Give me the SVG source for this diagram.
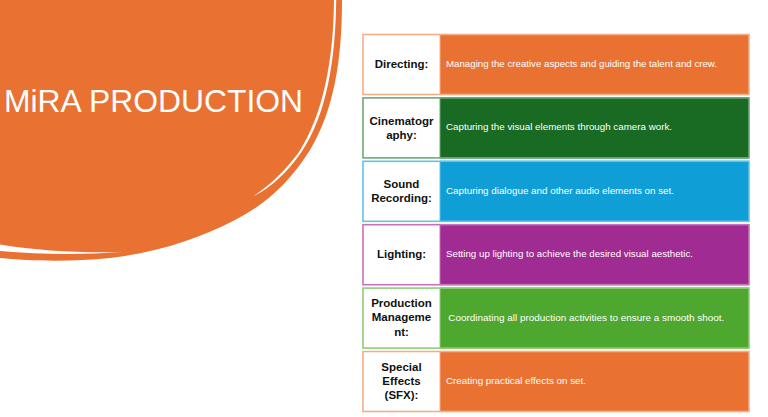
<svg xmlns="http://www.w3.org/2000/svg" width="768" height="417" viewBox="0 0 768 417">
<style>
.lbl{font-family:"Liberation Sans",Arial,sans-serif;font-weight:bold;font-size:11.5px;fill:#111;text-anchor:middle}
.dsc{font-family:"Liberation Sans",Arial,sans-serif;font-size:9.3px;fill:#fff}
.box{fill:#fff}
.frame{fill:none;stroke-width:1.6}
</style>
<rect width="768" height="417" fill="#fff"/>
<g id="title-shape">
<path d="M0 0 L342 0 C342 60 334 110 310 150 C290 182 265 205 235 220 C200 238 160 252 110 258 C70 262 30 261 0 258 Z" fill="#E97132"/>
<path d="M334 0 L336.2 0 C335.5 60 326.8 115 300.8 153 C287 172.5 272 187 253 196.5 C271 184.5 284.7 171 299 152 C323 115 333.5 60 334 0 Z" fill="#fff"/>
<path d="M0 244.5 C40 251 80 253 123 252 C80 255 40 254.5 0 251 Z" fill="#fff"/>
<text x="4" y="112" font-family="'Liberation Sans',Arial,sans-serif" font-size="32" fill="#fff" textLength="299" lengthAdjust="spacingAndGlyphs">MiRA PRODUCTION</text>
</g>
<g id="row-directing">
<rect x="440" y="34" width="309" height="61" fill="#E97132"/>
<rect class="box" x="363" y="34" width="77" height="61"/>
<rect class="frame" x="363" y="34.5" width="386" height="60" stroke="#F4AE85"/>
<line x1="440" y1="34.5" x2="440" y2="94.5" stroke="#F4AE85" stroke-width="1"/>
<text class="lbl" x="401.5" y="68">Directing:</text>
<text class="dsc" x="446" y="67" textLength="271" lengthAdjust="spacingAndGlyphs">Managing the creative aspects and guiding the talent and crew.</text>
</g>
<g id="row-cinematography">
<rect x="440" y="97.4" width="309" height="61" fill="#196B24"/>
<rect class="box" x="363" y="97.4" width="77" height="61"/>
<rect class="frame" x="363" y="97.9" width="386" height="60" stroke="#6FA877"/>
<line x1="440" y1="97.9" x2="440" y2="157.9" stroke="#6FA877" stroke-width="1"/>
<text class="lbl" x="401.5" y="124.7">Cinematogr</text>
<text class="lbl" x="401.5" y="139">aphy:</text>
<text class="dsc" x="446" y="130" textLength="226" lengthAdjust="spacingAndGlyphs">Capturing the visual elements through camera work.</text>
</g>
<g id="row-sound">
<rect x="440" y="160.8" width="309" height="61" fill="#0F9ED5"/>
<rect class="box" x="363" y="160.8" width="77" height="61"/>
<rect class="frame" x="363" y="161.3" width="386" height="60" stroke="#62C2EA"/>
<line x1="440" y1="161.3" x2="440" y2="221.3" stroke="#62C2EA" stroke-width="1"/>
<text class="lbl" x="401.5" y="188">Sound</text>
<text class="lbl" x="401.5" y="202.3">Recording:</text>
<text class="dsc" x="446" y="194" textLength="228" lengthAdjust="spacingAndGlyphs">Capturing dialogue and other audio elements on set.</text>
</g>
<g id="row-lighting">
<rect x="440" y="224.2" width="309" height="61" fill="#A02B93"/>
<rect class="box" x="363" y="224.2" width="77" height="61"/>
<rect class="frame" x="363" y="224.7" width="386" height="60" stroke="#C672BC"/>
<line x1="440" y1="224.7" x2="440" y2="284.7" stroke="#C672BC" stroke-width="1"/>
<text class="lbl" x="401.5" y="258">Lighting:</text>
<text class="dsc" x="446" y="257.3" textLength="247" lengthAdjust="spacingAndGlyphs">Setting up lighting to achieve the desired visual aesthetic.</text>
</g>
<g id="row-production-management">
<rect x="440" y="287.6" width="309" height="61" fill="#4EA72E"/>
<rect class="box" x="363" y="287.6" width="77" height="61"/>
<rect class="frame" x="363" y="288.1" width="386" height="60" stroke="#8FCC77"/>
<line x1="440" y1="288.1" x2="440" y2="348.1" stroke="#8FCC77" stroke-width="1"/>
<text class="lbl" x="401.5" y="307.3">Production</text>
<text class="lbl" x="401.5" y="321.3">Manageme</text>
<text class="lbl" x="401.5" y="335.7">nt:</text>
<text class="dsc" x="448.3" y="321" textLength="276" lengthAdjust="spacingAndGlyphs">Coordinating all production activities to ensure a smooth shoot.</text>
</g>
<g id="row-special-effects">
<rect x="440" y="351" width="309" height="61" fill="#E97132"/>
<rect class="box" x="363" y="351" width="77" height="61"/>
<rect class="frame" x="363" y="351.5" width="386" height="60" stroke="#F4AE85"/>
<line x1="440" y1="351.5" x2="440" y2="411.5" stroke="#F4AE85" stroke-width="1"/>
<text class="lbl" x="401.5" y="371.3">Special</text>
<text class="lbl" x="401.5" y="384.7">Effects</text>
<text class="lbl" x="401.5" y="399">(SFX):</text>
<text class="dsc" x="446" y="384" textLength="140" lengthAdjust="spacingAndGlyphs">Creating practical effects on set.</text>
</g>
<g id="connectors"></g>
</svg>
